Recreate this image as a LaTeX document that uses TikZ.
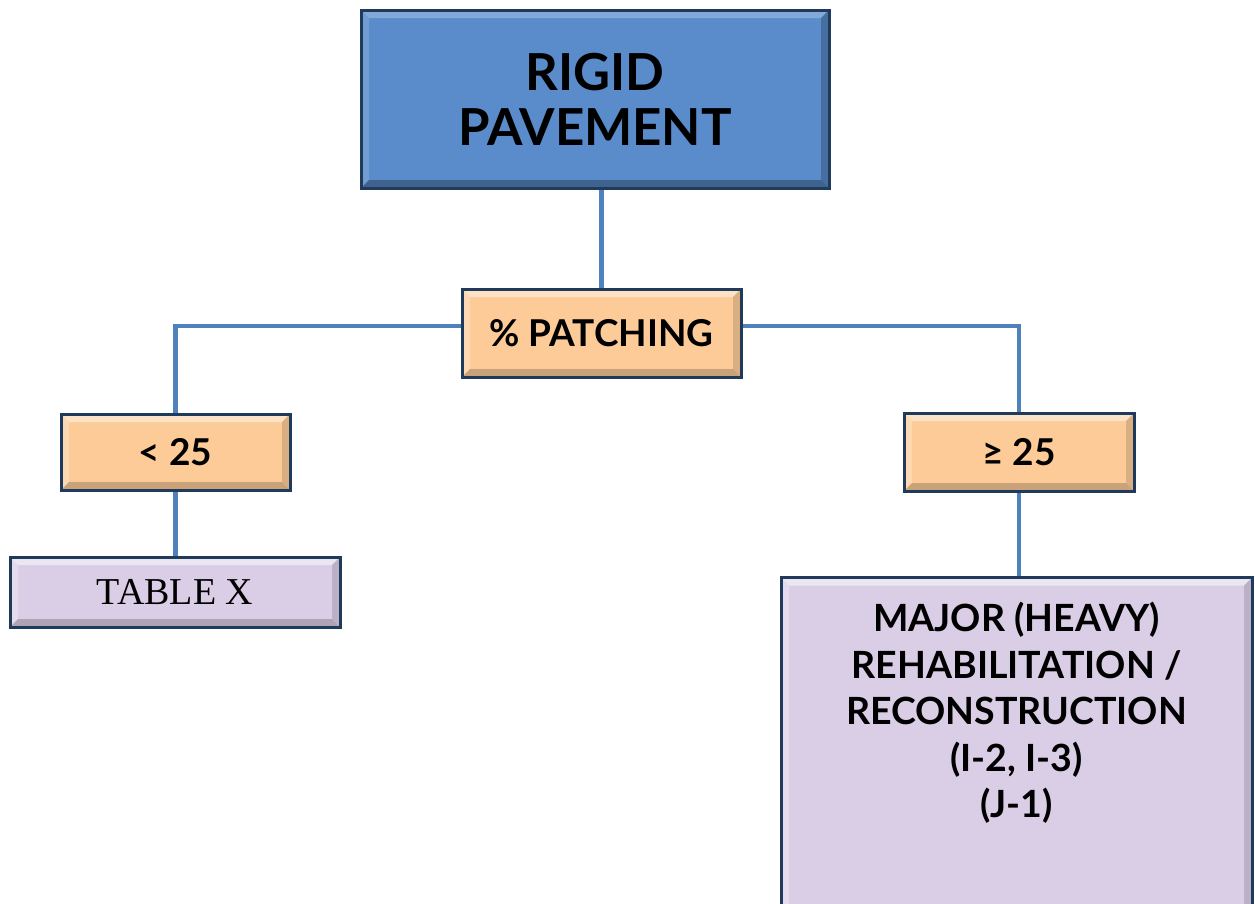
\documentclass[tikz,border=0pt]{standalone}
\usepackage{fontspec}
\setmainfont{Lato}
\newfontfamily\serifx{Liberation Serif}
\definecolor{bluefill}{HTML}{5A8CCB}
\definecolor{peach}{HTML}{FCCB98}
\definecolor{lav}{HTML}{DACDE6}
\definecolor{edge}{HTML}{1F3A5A}
\definecolor{conn}{HTML}{4F81BD}
\tikzset{
  bevel/.style 2 args={path picture={
    \coordinate (bNW) at (path picture bounding box.north west);
    \coordinate (bNE) at (path picture bounding box.north east);
    \coordinate (bSW) at (path picture bounding box.south west);
    \coordinate (bSE) at (path picture bounding box.south east);
    \fill[#1] (bNW) -- (bNE) -- ([shift={(-8pt,-8pt)}]bNE) -- ([shift={(8pt,-8pt)}]bNW) -- cycle;
    \fill[#1,opacity=0.6] (bNW) -- (bSW) -- ([shift={(8pt,8pt)}]bSW) -- ([shift={(8pt,-8pt)}]bNW) -- cycle;
    \fill[#2] (bSW) -- (bSE) -- ([shift={(-8pt,8pt)}]bSE) -- ([shift={(8pt,8pt)}]bSW) -- cycle;
    \fill[#2,opacity=0.7] (bNE) -- (bSE) -- ([shift={(-8pt,8pt)}]bSE) -- ([shift={(-8pt,-8pt)}]bNE) -- cycle;
  }},
  box/.style={draw=edge, line width=3pt, inner sep=0pt, align=center, text=black},
  bluebox/.style={box, fill=bluefill, bevel={bluefill!75!white}{bluefill!70!black}},
  peachbox/.style={box, fill=peach, bevel={peach!55!white}{peach!80!black}},
  lavbox/.style={box, fill=lav, bevel={lav!50!white}{lav!80!black}},
  conline/.style={draw=conn, line width=4.5pt},
  bigfont/.style={font=\fontsize{51}{55}\selectfont\bfseries},
  midfont/.style={font=\fontsize{37}{40}\selectfont\bfseries},
  majfont/.style={font=\fontsize{37.5}{46.5}\selectfont\bfseries},
  tabfont/.style={font=\fontsize{38}{40}\selectfont\serifx},
}
\begin{document}
\begin{tikzpicture}[x=1pt,y=-1pt]
\useasboundingbox[fill=white] (0,0) rectangle (1255,903);
\node[bluebox, bigfont, minimum width=468pt, minimum height=178pt] (rigid) at (595,99) {RIGID\\PAVEMENT};
\node[peachbox, midfont, minimum width=279pt, minimum height=88pt] (patch) at (601.5,333) {\% PATCHING};
\node[peachbox, midfont, minimum width=229pt, minimum height=76pt] (lt) at (175.5,452) {< 25};
\node[peachbox, midfont, minimum width=230pt, minimum height=78pt] (ge) at (1019,452) {≥ 25};
\node[lavbox, tabfont, minimum width=330pt, minimum height=70pt] (tbl) at (175,592) {TABLE X};
\node[lavbox, minimum width=471pt, minimum height=360pt, anchor=north,
  label={[majfont, align=center, anchor=north, yshift=-23pt]north:MAJOR (HEAVY)\\REHABILITATION /\\RECONSTRUCTION\\(I-2, I-3)\\(J-1)}] (major) at (1016.5,576) {};
\draw[conline] (patch.north) -- (patch.north |- rigid.south);
\draw[conline] ([yshift=7pt]patch.west) -| (lt.north);
\draw[conline] ([yshift=7pt]patch.east) -| (ge.north);
\draw[conline] (lt.south) -- (lt.south |- tbl.north);
\draw[conline] (ge.south) -- (ge.south |- major.north);
\end{tikzpicture}
\end{document}
